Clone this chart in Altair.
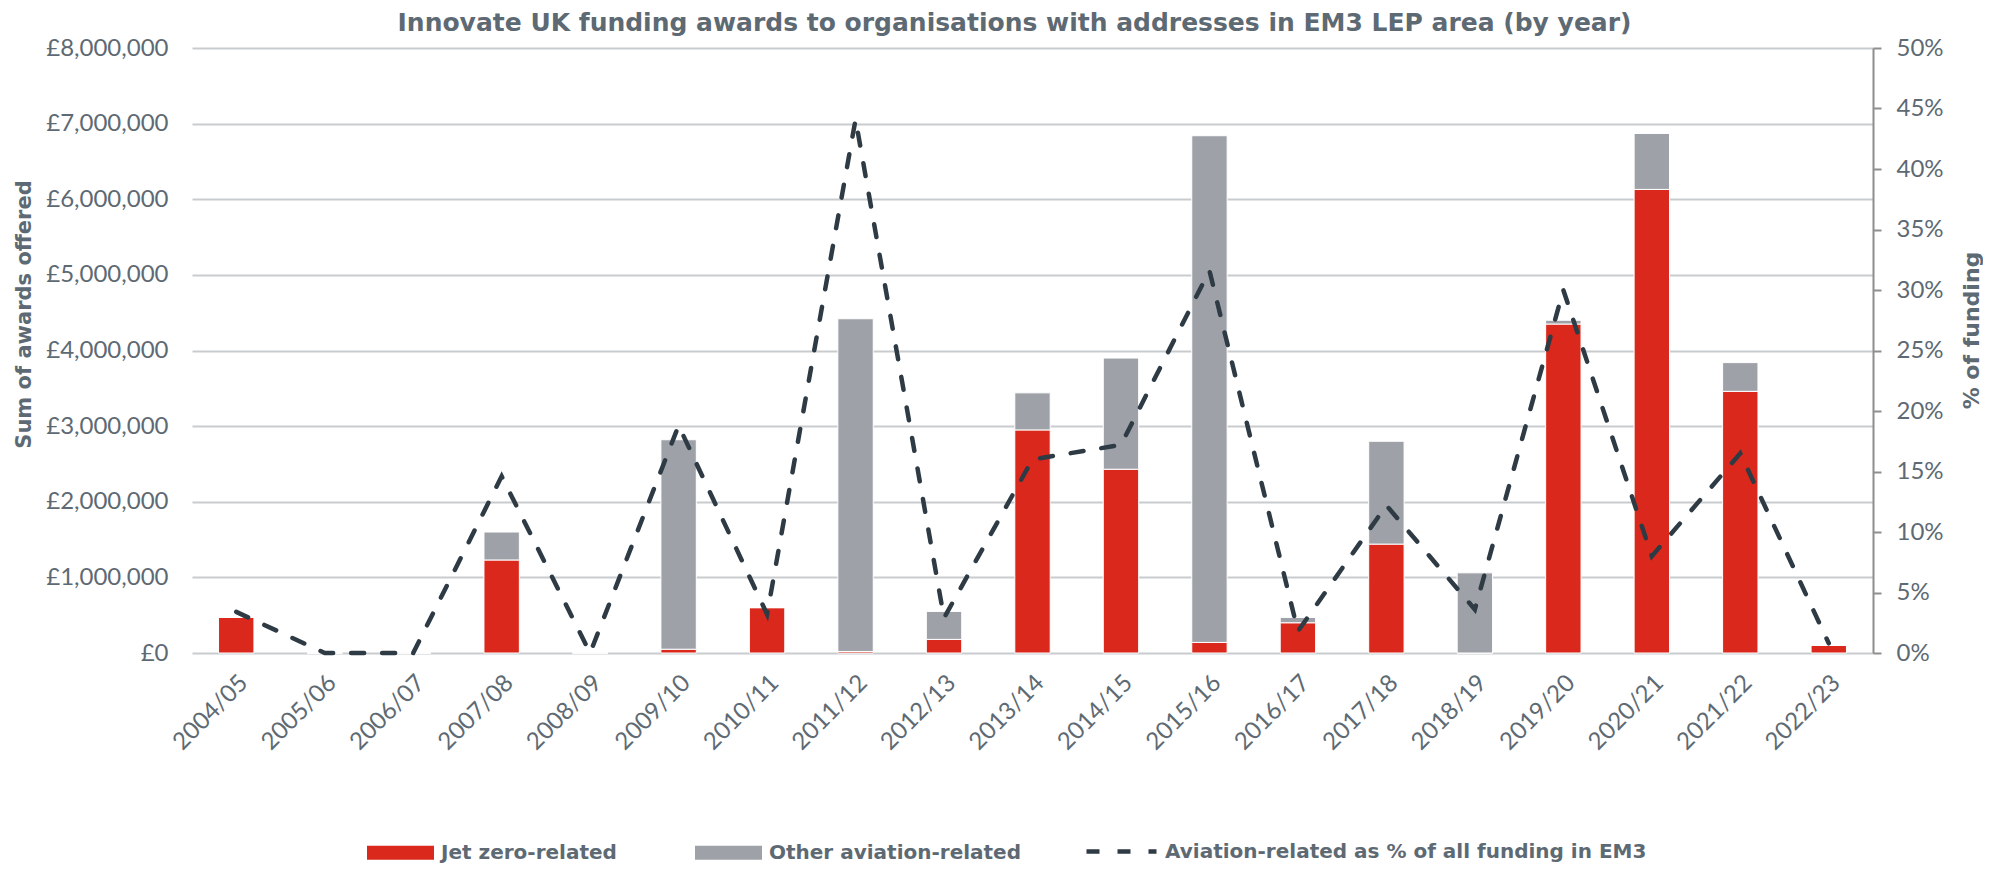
import altair as alt
import pandas as pd

years = ["2004/05", "2005/06", "2006/07", "2007/08", "2008/09", "2009/10", "2010/11",
         "2011/12", "2012/13", "2013/14", "2014/15", "2015/16", "2016/17", "2017/18",
         "2018/19", "2019/20", "2020/21", "2021/22", "2022/23"]
jet_zero = [470000, 0, 0, 1230000, 0, 50000, 600000, 20000, 180000, 2950000,
            2430000, 140000, 400000, 1440000, 0, 4350000, 6130000, 3460000, 100000]
other_aviation = [0, 0, 0, 370000, 0, 2770000, 0, 4400000, 370000, 490000,
                  1470000, 6700000, 70000, 1360000, 1060000, 50000, 740000, 380000, 0]
pct_share = [0.034, 0.0, 0.0, 0.146, 0.0, 0.188, 0.032, 0.441, 0.029, 0.160,
             0.172, 0.316, 0.018, 0.122, 0.036, 0.300, 0.080, 0.165, 0.008]

series_names = ["Jet zero-related", "Other aviation-related"]
line_name = "Aviation-related as % of all funding in EM3"
y_ticks = [0, 1000000, 2000000, 3000000, 4000000, 5000000, 6000000, 7000000, 8000000]
pct_ticks = [0, 0.05, 0.10, 0.15, 0.20, 0.25, 0.30, 0.35, 0.40, 0.45, 0.50]

TEXT = "#5E6A73"
FONT = "Lato"
BOLD_FONT = "DejaVu Sans"

bars_df = pd.DataFrame({
    "year": years * 2,
    "series": [series_names[0]] * len(years) + [series_names[1]] * len(years),
    "value": jet_zero + other_aviation,
    "stackorder": [0] * len(years) + [1] * len(years),
})
line_df = pd.DataFrame({"year": years, "pct": pct_share, "series": [line_name] * len(years)})

x_enc = alt.X(
    "year:N", sort=years,
    scale=alt.Scale(paddingInner=0.6, paddingOuter=0.3),
    axis=alt.Axis(title=None, labelAngle=-45, labelAlign="right", labelBaseline="middle",
                  labelPadding=26, labelOffset=8, domain=False, ticks=False, tickSize=0,
                  labelFontSize=24, labelColor=TEXT, labelFont=FONT, grid=False),
)

bars = alt.Chart(bars_df).mark_bar(stroke="white", strokeWidth=1).encode(
    x=x_enc,
    y=alt.Y("value:Q", stack="zero",
            scale=alt.Scale(domain=[0, 8000000], nice=False),
            axis=alt.Axis(values=y_ticks, labelExpr="'£' + format(datum.value, ',.0f')",
                          title="Sum of awards offered", titleFontSize=21, titleFont=BOLD_FONT,
                          titleFontWeight="bold", titleColor=TEXT, titleAngle=270,
                          titleX=-168, titleY=266, titleBaseline="middle", titleAlign="center",
                          labelFontSize=24, labelFont=FONT, labelColor=TEXT, labelPadding=24,
                          domain=False, ticks=False, tickSize=0,
                          grid=True, gridColor="#C9CCCF", gridWidth=2)),
    color=alt.Color("series:N",
                    scale=alt.Scale(domain=series_names, range=["#DA291C", "#9EA2A8"]),
                    legend=alt.Legend(title=None, orient="none", legendX=175, legendY=771,
                                      direction="horizontal",
                                      symbolType="M-1,-0.21H1V0.21H-1Z", symbolSize=4489,
                                      symbolStrokeWidth=0, labelOffset=7, columnPadding=78,
                                      labelFontSize=20, labelFont=BOLD_FONT, labelFontWeight="bold",
                                      labelColor=TEXT, labelLimit=0, padding=0)),
    order=alt.Order("stackorder:Q"),
)

line = alt.Chart(line_df).mark_line(color="#2E3A44", strokeWidth=4.5, strokeCap="round").encode(
    x=x_enc,
    y=alt.Y("pct:Q", scale=alt.Scale(domain=[0, 0.5], nice=False),
            axis=alt.Axis(orient="right", values=pct_ticks, format=".0%",
                          title="% of funding", titleFontSize=22, titleFont=BOLD_FONT,
                          titleFontWeight="bold", titleColor=TEXT, titleAngle=270,
                          titleX=98, titleY=282, titleBaseline="middle", titleAlign="center",
                          labelFontSize=24, labelFont=FONT, labelColor=TEXT, labelPadding=15,
                          domain=True, domainColor="#8E8E8E", domainWidth=2,
                          ticks=True, tickSize=8, tickColor="#8E8E8E", tickWidth=2,
                          grid=False)),
    strokeDash=alt.StrokeDash("series:N",
                              scale=alt.Scale(domain=[line_name], range=[[13, 18]]),
                              legend=alt.Legend(title=None, orient="none", legendX=892, legendY=766,
                                                symbolType="stroke", symbolSize=4900,
                                                symbolStrokeWidth=4.5, symbolStrokeColor="#2E3A44",
                                                labelOffset=6, labelLimit=0,
                                                labelFontSize=20, labelFont=BOLD_FONT,
                                                labelFontWeight="bold", labelColor=TEXT, padding=0)),
)

chart = alt.layer(bars, line).resolve_scale(y="independent").properties(
    width=1681, height=605,
    autosize=alt.AutoSizeParams(type="none"),
    padding={"left": 184, "top": 40, "right": 110, "bottom": 211},
    title=alt.TitleParams(
        "Innovate UK funding awards to organisations with addresses in EM3 LEP area (by year)",
        fontSize=25, font=BOLD_FONT, fontWeight="bold", color=TEXT, anchor="middle",
        frame="group", dx=-18, offset=0),
).configure_view(stroke=None)

chart.save("out.html", embed_options={"renderer": "svg", "actions": False})
